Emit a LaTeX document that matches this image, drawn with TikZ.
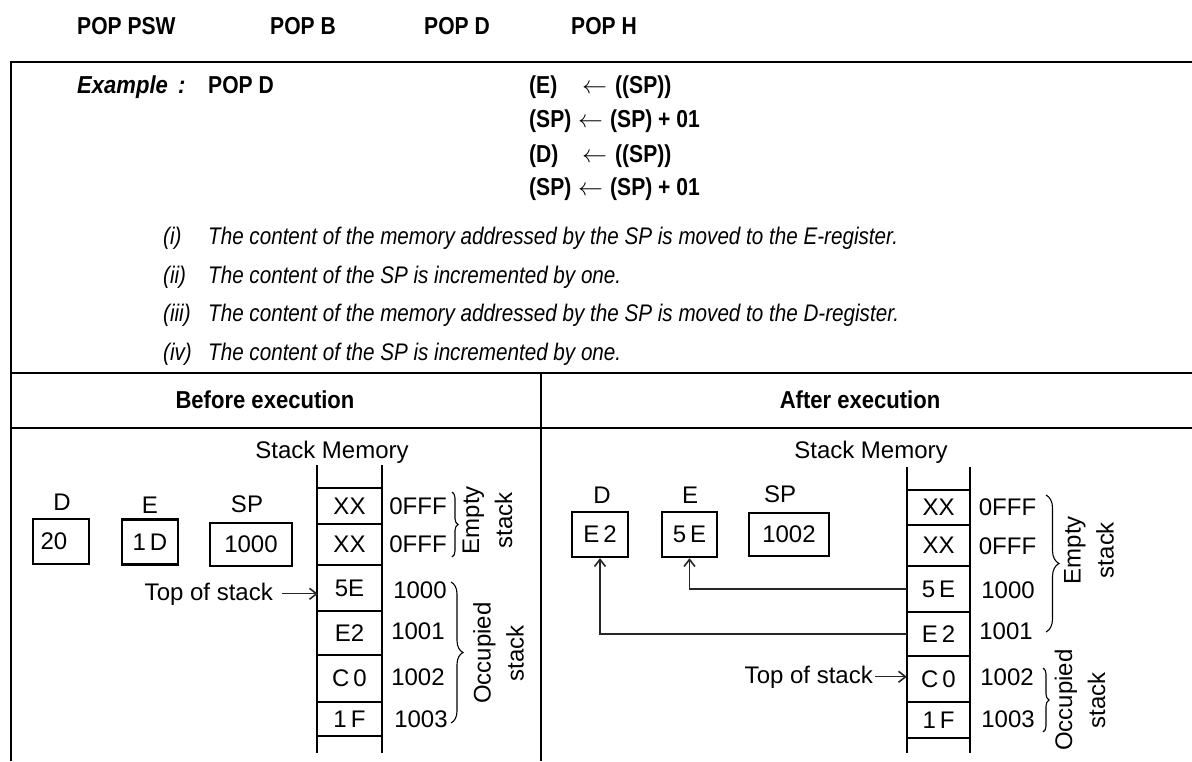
\documentclass[tikz,border=0pt]{standalone}
\usepackage{fontspec}
\setmainfont{Liberation Sans}
\newfontfamily\cond[FakeStretch=0.86]{Liberation Sans}
\newfontfamily\condw[FakeStretch=0.9]{Liberation Sans}
\usetikzlibrary{arrows.meta,decorations.pathreplacing}
\begin{document}
\begin{tikzpicture}[x=1pt,y=-1pt,
  frameline/.style={line width=2.6pt,black},
  stk/.style={line width=2.4pt,black},
  reg/.style={draw,line width=2.4pt,minimum height=45pt,inner sep=0pt,font=\fontsize{24}{28}\selectfont},
  hd/.style={font=\cond\bfseries\fontsize{24.5}{28}\selectfont,inner sep=0pt,anchor=base west},
  hdc/.style={font=\condw\bfseries\fontsize{24.5}{28}\selectfont,inner sep=0pt,anchor=base},
  itx/.style={font=\cond\itshape\fontsize{24}{28}\selectfont,inner sep=0pt,anchor=base west},
  txt/.style={font=\fontsize{24}{28}\selectfont,inner sep=0pt},
  rot/.style={font=\fontsize{24}{33}\selectfont,inner sep=0pt,rotate=90,align=center},
  cell/.style={font=\fontsize{24}{28}\selectfont,inner sep=0pt,minimum width=63pt},
  tip/.style={line width=1.1pt,black!85,-{Straight Barb[length=7pt,width=11pt,line width=1.6pt]}},
  brc/.style={line width=1.1pt,decorate},
]
\useasboundingbox (0,0) rectangle (1192,761);
% frame
\draw[frameline] (11,761) -- (11,62) -- (1192,62);
\draw[frameline] (11,373) -- (1192,373);
\draw[frameline] (11,428) -- (1192,428);
\draw[frameline] (541,373) -- (541,761);
% top row
\node[hd] (t1) at (77,34) {POP PSW};
\node[hd] (t2) at (270,34) {POP B};
\node[hd] (t3) at (424,34) {POP D};
\node[hd] (t4) at (571,34) {POP H};
% example
\node[hd,font=\condw\bfseries\itshape\fontsize{24.5}{28}\selectfont] (ex) at (77,93) {Example\hspace{4pt} :};
\node[hd] (exd) at (208,93) {POP D};
\node[hd] (q1a) at (529,93) {(E)};
\node[hd] (q1b) at (582,93) {$\leftarrow$};
\node[hd] (q1c) at (615,93) {((SP))};
\node[hd] (q2a) at (529,127) {(SP)};
\node[hd] (q2b) at (578,127) {$\leftarrow$};
\node[hd] (q2c) at (610,127) {(SP) + 01};
\node[hd] (q3a) at (529,162) {(D)};
\node[hd] (q3b) at (582,162) {$\leftarrow$};
\node[hd] (q3c) at (615,162) {((SP))};
\node[hd] (q4a) at (529,195) {(SP)};
\node[hd] (q4b) at (578,195) {$\leftarrow$};
\node[hd] (q4c) at (610,195) {(SP) + 01};
% items
\node[itx] (i1) at (163,244) {(i)};
\node[itx] (i1t) at (208,244) {The content of the memory addressed by the SP is moved to the E-register.};
\node[itx] (i2) at (163,283) {(ii)};
\node[itx] (i2t) at (208,283) {The content of the SP is incremented by one.};
\node[itx] (i3) at (163,321) {(iii)};
\node[itx] (i3t) at (208,321) {The content of the memory addressed by the SP is moved to the D-register.};
\node[itx] (i4) at (163,360) {(iv)};
\node[itx] (i4t) at (208,360) {The content of the SP is incremented by one.};
% column heads
\node[hdc] (hb) at (265,408) {Before execution};
\node[hdc] (ha) at (860,408) {After execution};
% ---------------- left diagram
\node[txt,anchor=base] (smL) at (332,458) {Stack Memory};
\foreach \yy in {488,524,565,611,655,702,736} \draw[stk] (317,\yy) -- (382,\yy);
\draw[stk] (317,465) -- (317,753);
\draw[stk] (382,465) -- (382,753);
\node[cell] (cL1) at (349.5,506) {XX};
\node[cell] (cL2) at (349.5,544.5) {XX};
\node[cell] (cL3) at (349.5,588) {5E};
\node[cell] (cL4) at (349.5,633) {E2};
\node[cell] (cL5) at (349.5,678.5) {C\,0};
\node[cell] (cL6) at (349.5,719) {1\,F};
\node[txt] (aL1) at (418,506) {0FFF};
\node[txt] (aL2) at (418,544.5) {0FFF};
\node[txt] (aL3) at (420,590) {1000};
\node[txt] (aL4) at (418,631) {1001};
\node[txt] (aL5) at (418,677) {1002};
\node[txt] (aL6) at (421,719) {1003};
\draw[brc,decoration={brace,amplitude=6pt}] (452,492) -- (452,557);
\draw[brc,decoration={brace,amplitude=12pt}] (451,582) -- (451,723);
\node[rot] (esL) at (487.5,520) {Empty\\stack};
\node[rot] (osL) at (498.5,653) {Occupied\\stack};
\node[txt,anchor=base] (lDL) at (62,510) {D};
\node[txt,anchor=base] (lEL) at (150,513) {E};
\node[txt,anchor=base] (lSL) at (247,512) {SP};
\node[reg,minimum width=56pt] (dL) at (61,541.5) {20\hspace*{14pt}};
\node[reg,minimum width=56pt] (eL) at (150,542) {1\,D};
\node[reg,minimum width=82pt,minimum height=43pt] (sL) at (251,544.5) {1000};
\node[txt,anchor=base east] (tosL) at (273,600) {Top of stack};
\draw[tip] ([xshift=9pt]tosL.east) -- (tosL.east -| cL3.west);
% ---------------- right diagram
\node[txt,anchor=base] (smR) at (871,458) {Stack Memory};
\foreach \yy in {490,525,566,612,656,702,738} \draw[stk] (907,\yy) -- (970,\yy);
\draw[stk] (907,467) -- (907,753);
\draw[stk] (970,467) -- (970,753);
\node[cell] (cR1) at (938.5,507.5) {XX};
\node[cell] (cR2) at (938.5,545.5) {XX};
\node[cell] (cR3) at (938.5,589) {5\,E};
\node[cell] (cR4) at (938.5,634) {E\,2};
\node[cell] (cR5) at (938.5,679) {C\,0};
\node[cell] (cR6) at (938.5,720) {1\,F};
\node[txt] (aR1) at (1007.5,507) {0FFF};
\node[txt] (aR2) at (1007.5,546) {0FFF};
\node[txt] (aR3) at (1008,590) {1000};
\node[txt] (aR4) at (1006,631) {1001};
\node[txt] (aR5) at (1007,677) {1002};
\node[txt] (aR6) at (1008,719) {1003};
\draw[brc,decoration={brace,amplitude=13pt}] (1046,495) -- (1046,632);
\draw[brc,decoration={brace,amplitude=6pt}] (1043,668) -- (1043,732);
\node[rot] (esR) at (1089,550) {Empty\\stack};
\node[rot] (osR) at (1080,700) {Occupied\\stack};
\node[txt,anchor=base] (lDR) at (602,503) {D};
\node[txt,anchor=base] (lER) at (690,503) {E};
\node[txt,anchor=base] (lSR) at (780,502) {SP};
\node[reg,minimum width=56pt] (dR) at (600,534.5) {E\,2};
\node[reg,minimum width=55pt] (eR) at (689.5,534.5) {5\,E};
\node[reg,minimum width=80pt,minimum height=43pt] (sR) at (789,534.5) {1002};
\node[txt,anchor=base east] (tosR) at (873,683) {Top of stack};
\draw[tip] ([xshift=2pt]tosR.east) -- (tosR.east -| cR5.west);
\draw[tip] (cR3.west) -| (eR.south);
\draw[tip] (cR4.west) -| (dR.south);
\end{tikzpicture}
\end{document}
